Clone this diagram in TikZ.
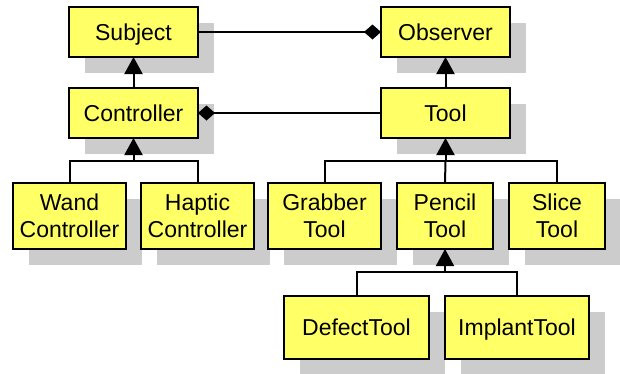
\documentclass[tikz,border=0pt]{standalone}
\usepackage{fontspec}
\setmainfont{Liberation Sans}
\usetikzlibrary{shadows, positioning, arrows.meta}
\definecolor{classyellow}{RGB}{255,255,102}
\definecolor{shadowgray}{RGB}{204,204,204}

\begin{document}
\begin{tikzpicture}[
        x=1pt, y=1pt,
        every node/.style={font=\fontsize{23}{27}\selectfont},
        myclass/.style={rectangle, draw, line width=2pt, outer sep=0pt, fill=classyellow, minimum width=#1, minimum height=50pt, inner sep=0pt, align=center, drop shadow={shadow xshift=16pt, shadow yshift=-16pt, fill=shadowgray, opacity=1, draw=none}},
        oneline/.style={text height=16.5pt, text depth=0pt},
        inherit/.style={-{Triangle[width=18pt,length=17pt]}, line width=2pt},
        link/.style={line width=2pt}
    ]
    \useasboundingbox (0,0) rectangle (620,-373);
%
    \node[myclass=129pt, oneline] (subject) at (133.5,-32) {Subject};
    \node[myclass=129pt, oneline, right=183pt of subject] (observer) {Observer};
    \node[myclass=129pt, oneline, below=31pt of subject] (controller) {Controller};
    \node[myclass=129pt, oneline, below=31pt of observer] (tool) {Tool};
%
    % middle row
    \node[myclass=113pt, minimum height=66pt] (wand) at (69.5,-216) {Wand\\Controller};
    \node[myclass=113pt, minimum height=66pt, right=15pt of wand] (haptic) {Haptic\\Controller};
    \node[myclass=113pt, minimum height=66pt, right=14pt of haptic] (grabber) {Grabber\\Tool};
    \node[myclass=96pt, minimum height=66pt, right=16pt of grabber] (pencil) {Pencil\\Tool};
    \node[myclass=96pt, minimum height=66pt, right=16pt of pencil] (slice) {Slice\\Tool};
%
    % pencil subclasses
    \node[myclass=145pt, oneline, minimum height=63pt] (defect) at (356.5,-327.5) {DefectTool};
    \node[myclass=144pt, oneline, minimum height=63pt, right=16pt of defect] (implant) {ImplantTool};
%
    \coordinate[below=23pt of controller] (cbar);
    \coordinate[below=23pt of tool] (tbar);
    \coordinate[below=23pt of pencil] (pbar);
%
    \draw[link, -{Diamond[width=15pt,length=17pt]}] (subject) -- (observer);
    \draw[link, {Diamond[width=15pt,length=17pt]}-] (controller) -- (tool);
    \draw[inherit] (subject |- controller.north) -- (subject);
    \draw[inherit] (observer |- tool.north) -- (observer);
%
    \draw[inherit] (wand.north) |- (cbar) -- (controller);
    \draw[link] (haptic.north) |- (cbar);
    \draw[inherit] (grabber.north) |- (tbar) -- (tool);
    \draw[link] (slice.north) |- (tbar);
    \draw[link] (pencil.north) -- (tbar);
    \draw[inherit] (defect.north) |- (pbar) -- (pencil);
    \draw[link] (implant.north) |- (pbar);
%
\end{tikzpicture}
\end{document}
